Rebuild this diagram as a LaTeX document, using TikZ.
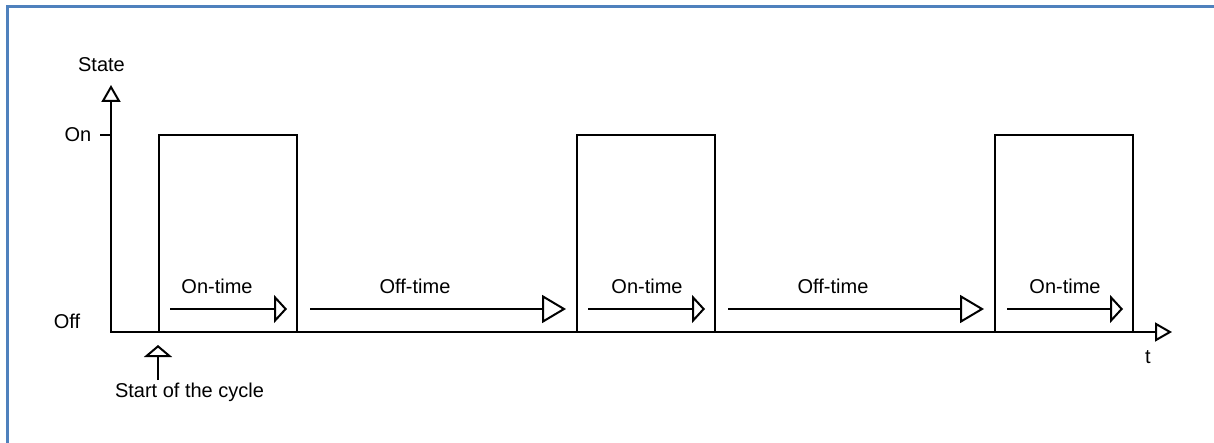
\documentclass[tikz,border=0pt]{standalone}
\usepackage{fontspec}
\setmainfont{Liberation Sans}
\usetikzlibrary{arrows.meta}
\definecolor{frameblue}{RGB}{79,129,189}
\tikzset{
  axis/.style={line width=2pt, line cap=rect},
  sig/.style={line width=2pt},
  lbl/.style={inner sep=0pt, anchor=base, font=\fontsize{20}{23}\selectfont},
  onarrow/.style={line width=1.6pt, -{Triangle[open, length=13pt, width=28pt, line width=2pt]}},
  offarrow/.style={line width=1.6pt, -{Triangle[open, length=24pt, width=28pt, line width=2pt]}},
  axhead/.style={-{Triangle[open, length=17pt, width=19pt, line width=2pt]}},
}
\begin{document}
\begin{tikzpicture}[x=1pt,y=-1pt]
\useasboundingbox (0,0) rectangle (1214,443);
% frame
\draw[frameblue, line width=3pt] (7,443) -- (7,7) -- (1214,7);
% axes
\coordinate (O) at (111,332);
\coordinate (ytip) at (111,85);
\coordinate (xtip) at (1172,332);
\draw[axis, axhead] (O) -- (ytip);
\draw[axis, axhead] (O) -- (xtip);
\coordinate (tickL) at (101,135);
\coordinate (tickR) at (111,135);
\draw[axis] (tickL) -- (tickR);
% labels
\node[lbl] (state) at (101.5,72) {State};
\node[lbl] (on) at (78,142) {On};
\node[lbl] (off) at (67,328) {Off};
\node[lbl] (t) at (1148,363) {t};
\node[lbl] (start) at (189.5,397) {Start of the cycle};
% pulses
\foreach \a/\b [count=\i] in {159/297, 577/715, 995/1133}{
  \coordinate (p\i a) at (\a,332);
  \coordinate (p\i b) at (\a,135);
  \coordinate (p\i c) at (\b,135);
  \coordinate (p\i d) at (\b,332);
  \draw[sig] (p\i a) -- (p\i b) -- (p\i c) -- (p\i d);
}
% on-time arrows
\foreach \s/\e/\c [count=\i] in {170/287/217, 588/705/647, 1007/1123/1065}{
  \coordinate (on\i s) at (\s,309);
  \coordinate (on\i e) at (\e,309);
  \draw[onarrow] (on\i s) -- (on\i e);
  \node[lbl] (onl\i) at (\c,294) {On-time};
}
% off-time arrows
\foreach \s/\e/\c [count=\i] in {310/566/415, 728/984/833}{
  \coordinate (off\i s) at (\s,309);
  \coordinate (off\i e) at (\e,309);
  \draw[offarrow] (off\i s) -- (off\i e);
  \node[lbl] (offl\i) at (\c,294) {Off-time};
}
% start arrow
\coordinate (sb) at (158,380);
\coordinate (st) at (158,345);
\draw[line width=2pt, -{Triangle[open, length=12pt, width=28pt, line width=2pt]}] (sb) -- (st);
\end{tikzpicture}
\end{document}
